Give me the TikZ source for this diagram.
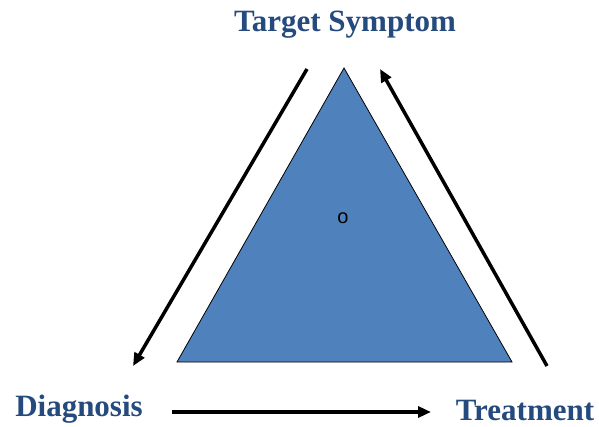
\documentclass[tikz,border=0pt]{standalone}
\usepackage{fontspec}
\setmainfont{Liberation Serif}
\newfontfamily\sansf{Liberation Sans}
\usetikzlibrary{arrows.meta}
\definecolor{triblue}{HTML}{4F81BD}
\definecolor{labblue}{HTML}{254A7E}
\begin{document}
\begin{tikzpicture}[x=1pt,y=-1pt,
  lab/.style={font=\fontsize{31}{36}\selectfont\bfseries, text=labblue, inner sep=0pt},
  cycarrow/.style={line width=3.5pt, -{Triangle[length=13pt,width=11pt]}}]
\useasboundingbox (0,0) rectangle (599,427);
\fill[white] (0,0) rectangle (599,427);
\coordinate (apex) at (344,68);
\coordinate (bl) at (177,362);
\coordinate (br) at (512,362);
\filldraw[fill=triblue, draw=black, line width=0.8pt] (apex) -- (bl) -- (br) -- cycle;
\node[font=\sansf\fontsize{20}{22}\selectfont, inner sep=0pt] (o) at (343,218) {o};
\node[lab] (ts) at (345,25) {Target Symptom};
\node[lab] (dg) at (79,409) {Diagnosis};
\node[lab] (tr) at (525,411) {Treatment};
\coordinate (l1) at (307,69);
\coordinate (l2) at (133,366);
\coordinate (r1) at (547,366);
\coordinate (r2) at (380,69);
\coordinate (b1) at (172,412);
\coordinate (b2) at (431,412);
\draw[cycarrow] (l1) -- (l2);
\draw[cycarrow] (r1) -- (r2);
\draw[cycarrow] (b1) -- (b2);
\end{tikzpicture}
\end{document}
